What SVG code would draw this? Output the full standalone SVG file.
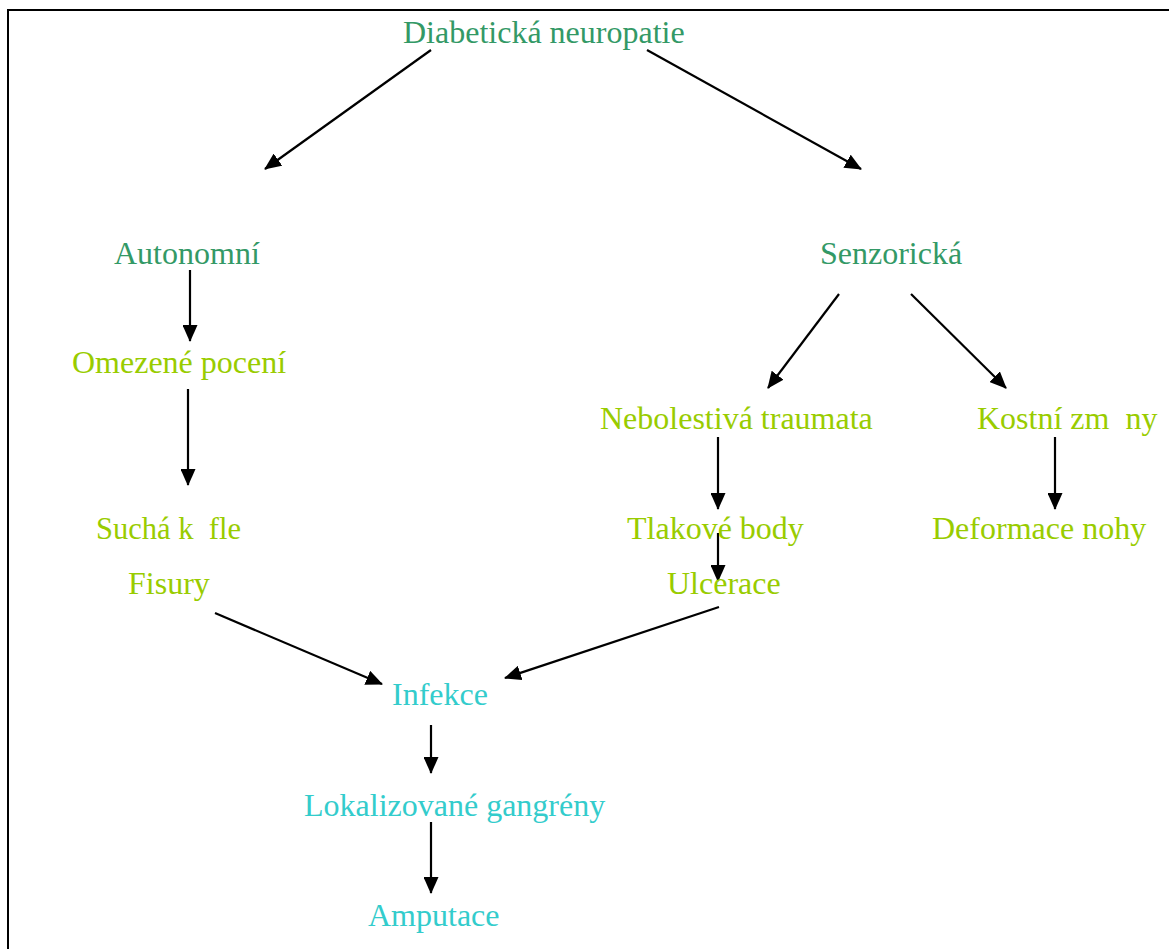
<svg xmlns="http://www.w3.org/2000/svg" width="1169" height="949" viewBox="0 0 1169 949">
<style>
text{font-family:"Liberation Serif","Times New Roman",serif;font-size:32px;white-space:pre}
.g{fill:#339966}
.y{fill:#99CC00}
.c{fill:#33CCCC}
.ln{stroke:#000;stroke-width:2.2;fill:none;marker-end:url(#ah)}
</style>
<defs>
<marker id="ah" viewBox="0 0 17 15" markerWidth="17" markerHeight="15" markerUnits="userSpaceOnUse" refX="16" refY="7.5" orient="auto">
<path d="M0,0 L17,7.5 L0,15 Z" fill="#000"/>
</marker>
</defs>
<rect width="1169" height="949" fill="#fff"/>
<path d="M8,949 V10 H1169" stroke="#000" stroke-width="2" fill="none"/>
<g id="connectors">
<line class="ln" x1="431" y1="50" x2="265" y2="169"/>
<line class="ln" x1="647" y1="50" x2="861" y2="169"/>
<line class="ln" x1="190" y1="270" x2="190" y2="341"/>
<line class="ln" x1="188" y1="389" x2="188" y2="485"/>
<line class="ln" x1="839" y1="294" x2="768" y2="388"/>
<line class="ln" x1="911" y1="294" x2="1006" y2="388"/>
<line class="ln" x1="718" y1="437" x2="718" y2="509"/>
<line class="ln" x1="718" y1="533" x2="718" y2="581"/>
<line class="ln" x1="1055" y1="437" x2="1055" y2="509"/>
<line class="ln" x1="215" y1="613" x2="382" y2="684"/>
<line class="ln" x1="719" y1="607" x2="505" y2="678"/>
<line class="ln" x1="431" y1="725" x2="431" y2="773"/>
<line class="ln" x1="431" y1="822" x2="431" y2="893"/>
</g>
<g id="n-diab"><text class="g" x="403" y="43">Diabetická neuropatie</text></g>
<g id="n-auto"><text class="g" x="114" y="264">Autonomní</text></g>
<g id="n-senz"><text class="g" x="820" y="264">Senzorická</text></g>
<g id="n-omez"><text class="y" x="72" y="373">Omezené pocení</text></g>
<g id="n-nebol"><text class="y" x="600" y="429">Nebolestivá traumata</text></g>
<g id="n-kost"><text class="y" x="977" y="429">Kostní zm  ny</text></g>
<g id="n-such"><text class="y" x="96" y="539" textLength="145" lengthAdjust="spacingAndGlyphs">Suchá k  fle</text></g>
<g id="n-tlak"><text class="y" x="627" y="539">Tlakové body</text></g>
<g id="n-defo"><text class="y" x="932" y="539">Deformace nohy</text></g>
<g id="n-fis"><text class="y" x="128" y="594">Fisury</text></g>
<g id="n-ulc"><text class="y" x="667" y="594">Ulcerace</text></g>
<g id="n-inf"><text class="c" x="392" y="705">Infekce</text></g>
<g id="n-lok"><text class="c" x="304" y="816">Lokalizované gangrény</text></g>
<g id="n-amp"><text class="c" x="368" y="926">Amputace</text></g>
</svg>
